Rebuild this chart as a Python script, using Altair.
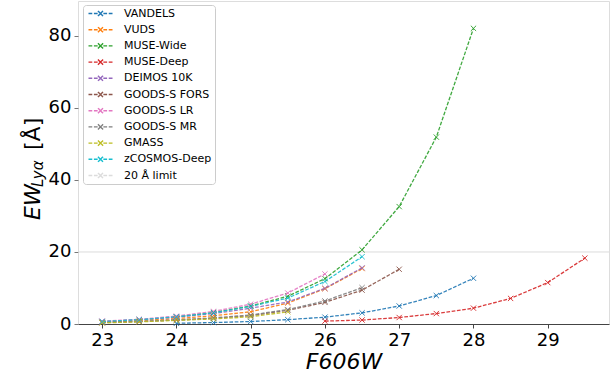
import altair as alt
import pandas as pd

surveys = ["VANDELS", "VUDS", "MUSE-Wide", "MUSE-Deep", "DEIMOS 10K",
           "GOODS-S FORS", "GOODS-S LR", "GOODS-S MR", "GMASS", "zCOSMOS-Deep"]
limit_label = "20 Å limit"
limit_value = 20
colors = ["#1f77b4", "#ff7f0e", "#2ca02c", "#d62728", "#9467bd",
          "#8c564b", "#e377c2", "#7f7f7f", "#bcbd22", "#17becf"]
limit_color = "#dcdcdc"

vandels_mag = [24, 24.5, 25, 25.5, 26, 26.5, 27, 27.5, 28]
vandels_ew = [0.2, 0.4, 0.7, 1.2, 1.9, 3.1, 5.0, 7.9, 12.7]
vuds_mag = [23, 23.5, 24, 24.5, 25, 25.5, 26, 26.5]
vuds_ew = [0.6, 1.0, 1.5, 2.3, 3.4, 5.8, 9.8, 15.4]
musewide_mag = [24, 24.5, 25, 25.5, 26, 26.5, 27, 27.5, 28]
musewide_ew = [2.0, 3.2, 5.0, 7.7, 12.6, 20.6, 32.6, 51.9, 82.1]
musedeep_mag = [26, 26.5, 27, 27.5, 28, 28.5, 29, 29.5]
musedeep_ew = [0.8, 1.1, 1.8, 2.9, 4.4, 7.1, 11.5, 18.3]
deimos_mag = [23, 23.5, 24, 24.5, 25, 25.5, 26, 26.5]
deimos_ew = [0.7, 1.2, 1.9, 2.9, 4.4, 6.1, 9.9, 15.6]
fors_mag = [23, 23.5, 24, 24.5, 25, 25.5, 26, 26.5, 27]
fors_ew = [0.4, 0.7, 1.1, 1.6, 2.3, 3.8, 6.0, 9.4, 15.2]
lr_mag = [23, 23.5, 24, 24.5, 25, 25.5, 26]
lr_ew = [0.8, 1.3, 2.2, 3.5, 5.5, 8.6, 13.9]
mr_mag = [23, 23.5, 24, 24.5, 25, 25.5, 26, 26.5]
mr_ew = [0.4, 0.7, 1.1, 1.7, 2.5, 4.0, 6.4, 10.1]
gmass_mag = [23, 23.5, 24, 24.5, 25, 25.5]
gmass_ew = [0.3, 0.6, 1.0, 1.4, 2.0, 3.4]
zcosmos_mag = [23, 23.5, 24, 24.5, 25, 25.5, 26, 26.5]
zcosmos_ew = [0.7, 1.2, 2.0, 3.1, 4.9, 7.2, 11.8, 18.7]

x_ticks = [23, 24, 25, 26, 27, 28, 29]
y_ticks = [0, 20, 40, 60, 80]

series = [
    (vandels_mag, vandels_ew), (vuds_mag, vuds_ew), (musewide_mag, musewide_ew),
    (musedeep_mag, musedeep_ew), (deimos_mag, deimos_ew), (fors_mag, fors_ew),
    (lr_mag, lr_ew), (mr_mag, mr_ew), (gmass_mag, gmass_ew), (zcosmos_mag, zcosmos_ew),
]
rows = []
for name, (mags, ews) in zip(surveys, series):
    for m, e in zip(mags, ews):
        rows.append({"survey": name, "mag": m, "ew": e})
df = pd.DataFrame(rows)
limit_df = pd.DataFrame({"survey": [limit_label], "ew": [limit_value]})

XPATH = "M-1,-1L1,1M-1,1L1,-1"
LEG_DASH = ("M-4,0H-2.75M-2.2,0H-0.95M0.95,0H2.2M2.75,0H4"
            "M-0.85,-0.85L0.85,0.85M-0.85,0.85L0.85,-0.85")

domain = surveys + [limit_label]
crange = colors + [limit_color]

legend = alt.Legend(
    title=None, orient="none", legendX=5, legendY=4,
    labelFont="DejaVu Sans", labelFontSize=11, labelColor="#000000",
    symbolType=LEG_DASH, symbolSize=36, symbolStrokeWidth=1.4, symbolOpacity=1,
    symbolDash=[1, 0], symbolFillColor="transparent",
    symbolOffset=9, labelOffset=18, rowPadding=4.2, padding=3,
    fillColor="white", strokeColor="#cccccc", cornerRadius=3,
)
color = alt.Color("survey:N", scale=alt.Scale(domain=domain, range=crange), legend=legend)

xscale = alt.Scale(domain=[22.675, 29.825], nice=False, zero=False)
yscale = alt.Scale(domain=[0, 89.7], nice=False, zero=False)

xaxis = alt.Axis(values=x_ticks, format="d", title="F606W", titleFontStyle="italic",
                 titleFontWeight="normal", titleFontSize=22, titlePadding=2,
                 labelFontSize=18, labelPadding=3, tickSize=4, grid=False,
                 domainColor="#444444", tickColor="#444444", labelColor="#000000",
                 titleColor="#000000", labelFont="DejaVu Sans", titleFont="DejaVu Sans",
                 labelFlush=False)
yaxis = alt.Axis(values=y_ticks, format="d", title=None, labelFontSize=18, labelPadding=3,
                 tickSize=4, grid=False, domain=False, tickColor="#777777",
                 labelColor="#000000", labelFont="DejaVu Sans", labelFlush=False)

base = alt.Chart(df)
X = alt.X("mag:Q", scale=xscale, axis=xaxis)
Y = alt.Y("ew:Q", scale=yscale, axis=yaxis)

rule = alt.Chart(limit_df).mark_rule(strokeWidth=1).encode(y=Y, color=color)
lines = base.mark_line(strokeWidth=1.3, strokeDash=[3.7, 1.6], opacity=0.9).encode(
    x=X, y=Y, color=color, detail="survey:N")
points = base.mark_point(shape=XPATH, filled=False, size=28, strokeWidth=1, opacity=0.9).encode(
    x=X, y=Y, color=color)

def ytitle(text, x, y, size, italic):
    return alt.Chart(pd.DataFrame({"t": [text]})).mark_text(
        angle=270, align="left", baseline="alphabetic", fontSize=size,
        font="DejaVu Sans", fontStyle="italic" if italic else "normal", color="#000000",
    ).encode(text="t:N", x=alt.value(x), y=alt.value(y))

t1 = ytitle("EW", -38, 219, 22, True)
t2 = ytitle("Lyα", -35, 186, 15, True)
t3 = ytitle("[Å]", -38, 149, 22, False)

chart = alt.layer(rule, lines, points, t1, t2, t3).properties(
    width=531, height=323,
    autosize=alt.AutoSizeParams(type="none"),
    padding={"left": 78, "top": 1, "right": 7, "bottom": 52},
).configure_view(stroke="#aaaaaa", strokeWidth=1).configure(background="white")

chart.save("out.html", embed_options={"renderer": "svg", "actions": False})
